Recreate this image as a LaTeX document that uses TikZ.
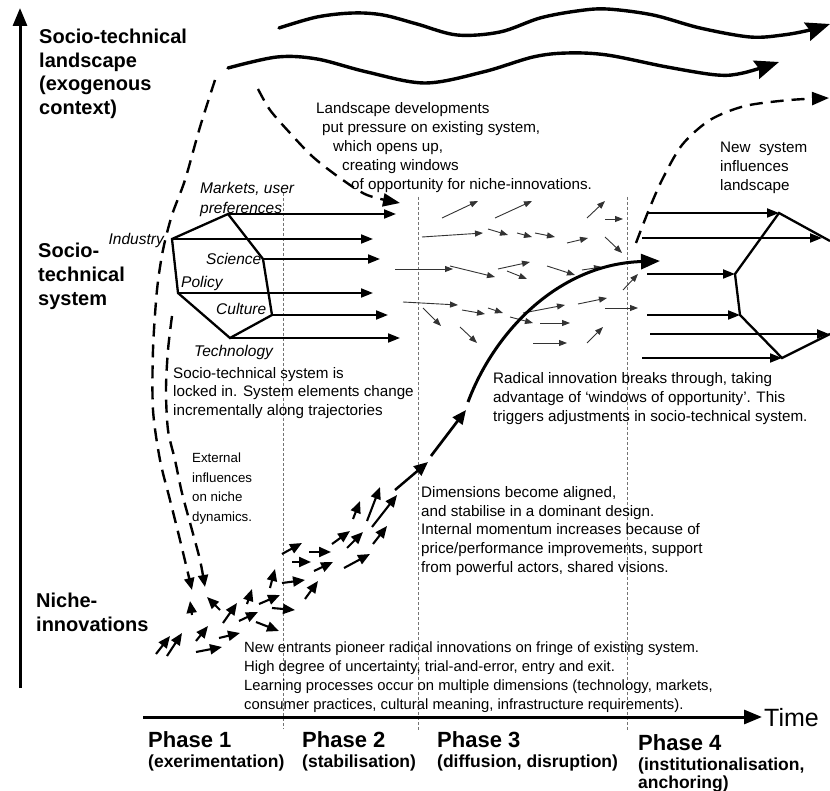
\documentclass[tikz,border=0pt]{standalone}
\usepackage{fontspec}
\setmainfont{Liberation Sans}
\usetikzlibrary{arrows.meta}
\begin{document}
\begin{tikzpicture}[x=1pt,y=-1pt,
  axisline/.style={line width=3pt,-{Triangle[length=18pt,width=14pt]}},
  wave/.style={line width=3.4pt,line cap=round,-{Stealth[length=24pt,width=19pt,inset=3pt]}},
  sysarrow/.style={line width=2pt,-{Triangle[length=12pt,width=9pt]}},
  hexline/.style={line width=2.3pt,line join=miter},
  dcurve/.style={line width=2.4pt,dash pattern=on 13pt off 8pt,-{Triangle[length=12pt,width=10pt]}},
  bigdcurve/.style={dcurve,-{Triangle[length=17pt,width=13pt]}},
  thinarrow/.style={line width=0.9pt,draw=black!80,-{Triangle[length=8pt,width=6pt]}},
  nichearrow/.style={line width=2.1pt,-{Triangle[length=12pt,width=10pt]}},
  phaseline/.style={line width=0.6pt,draw=black!55,dash pattern=on 3pt off 2pt},
  bodytext/.style={font=\fontsize{15.2}{19}\selectfont,align=left,inner sep=0pt,anchor=north west},
  levellabel/.style={font=\fontsize{20}{23.5}\selectfont\bfseries,align=left,inner sep=0pt,anchor=north west},
  element/.style={font=\fontsize{15.5}{20}\selectfont\itshape,inner sep=0pt,anchor=base west},
  phaselabel/.style={font=\fontsize{22}{24}\selectfont\bfseries,inner sep=0pt,anchor=base west},
  phasesub/.style={font=\fontsize{17.5}{18}\selectfont\bfseries,inner sep=0pt,anchor=base west},
]
\useasboundingbox (0,0) rectangle (830,791);
\fill[white] (0,0) rectangle (830,791);

% phase separators
\coordinate (sepAtop) at (283,193); \coordinate (sepAbot) at (283,729);
\coordinate (sepBtop) at (418,197); \coordinate (sepBbot) at (418,730);
\coordinate (sepCtop) at (627,197); \coordinate (sepCbot) at (627,730);
\draw[phaseline] (sepAtop) -- (sepAbot);
\draw[phaseline] (sepBtop) -- (sepBbot);
\draw[phaseline] (sepCtop) -- (sepCbot);

% axes
\coordinate (yfoot) at (20,688); \coordinate (ytop) at (20,8);
\draw[axisline] (yfoot) -- (ytop);
\coordinate (tstart) at (143,717); \coordinate (tend) at (762,717);
\draw[axisline] (tstart) -- (tend);
\node[anchor=base west,inner sep=0pt,font=\fontsize{25}{27}\selectfont] (timelabel) at (764,726) {Time};

% level labels
\node[levellabel] (landscapelabel) at (39,29) {Socio-technical\\landscape\\(exogenous\\context)};
\node[levellabel,font=\fontsize{20}{24}\selectfont\bfseries] (systemlabel) at (38,243) {Socio-\\technical\\system};
\node[levellabel] (nichelabel) at (36,593) {Niche-\\innovations};

% landscape waves
\draw[wave] plot[smooth,tension=0.55] coordinates {(279,28) (317,17) (353,13) (383,15) (417,24) (457,35) (500,32) (540,18) (577,11) (607,9) (653,15) (700,28) (750,37) (783,35) (810,30) (830,24)};
\draw[wave] plot[smooth,tension=0.55] coordinates {(228,68) (277,57) (317,59) (367,72) (425,83) (483,72) (533,57) (567,53) (607,55) (667,67) (717,75) (743,73) (779,62)};

% dashed influence curves
\draw[dcurve] plot[smooth] coordinates {(215,80) (200,127) (185,180) (172,215) (163,250) (157,290) (153,350) (153,410) (160,460) (170,500) (180,540) (192,590)};
\draw[dcurve] plot[smooth] coordinates {(172,316) (168,350) (166,390) (168,430) (175,460) (182,493) (192,530) (200,560) (205,587)};
\draw[bigdcurve] plot[smooth] coordinates {(258,89) (270,110) (290,133) (313,157) (340,178) (367,195) (400,203)};
\draw[bigdcurve] plot[smooth] coordinates {(636,243) (648,212) (662,180) (682,145) (710,120) (745,106) (790,100) (829,98)};

% texts
\node[bodytext] (landscapetext) at (316,102) {Landscape developments\\\hspace*{6pt}put pressure on existing system,\\\hspace*{17pt}which opens up,\\\hspace*{26pt}creating windows\\\hspace*{35pt}of opportunity for niche-innovations.};
\node[bodytext] (newsystext) at (720,142) {New~~system\\influences\\landscape};
\node[bodytext,font=\fontsize{15.2}{18.5}\selectfont] (lockedtext) at (173,367) {Socio-technical system is\\locked in. System elements change\\incrementally along trajectories};
\node[bodytext,font=\fontsize{13.3}{19.5}\selectfont] (externaltext) at (192,453) {External\\influences\\on niche\\dynamics.};
\node[bodytext] (radicaltext) at (493,372) {Radical innovation breaks through, taking\\advantage of `windows of opportunity'. This\\triggers adjustments in socio-technical system.};
\node[bodytext,font=\fontsize{15.2}{18.8}\selectfont] (dimtext) at (421,486) {Dimensions become aligned,\\and stabilise in a dominant design.\\Internal momentum increases because of\\price/performance improvements, support\\from powerful actors, shared visions.};
\node[bodytext,font=\fontsize{14.8}{18.7}\selectfont] (entrantstext) at (244,642) {New entrants pioneer radical innovations on fringe of existing system.\\High degree of uncertainty, trial-and-error, entry and exit.\\Learning processes occur on multiple dimensions (technology, markets,\\consumer practices, cultural meaning, infrastructure requirements).};

% phase labels
\node[phaselabel] (phaseone) at (148,747) {Phase 1};
\node[phasesub] (phaseonesub) at (148,767) {(exerimentation)};
\node[phaselabel] (phasetwo) at (302,747) {Phase 2};
\node[phasesub] (phasetwosub) at (302,767) {(stabilisation)};
\node[phaselabel] (phasethree) at (437,747) {Phase 3};
\node[phasesub] (phasethreesub) at (437,767) {(diffusion, disruption)};
\node[phaselabel] (phasefour) at (638,750) {Phase 4};
\node[phasesub] (phasefoursub) at (638,770) {(institutionalisation,};
\node[phasesub] (phasefoursubb) at (638,788) {anchoring)};

% existing socio-technical system (left hexagon)
\coordinate (industry) at (172,239);
\coordinate (markets) at (228,214);
\coordinate (science) at (263,259);
\coordinate (culture) at (272,315);
\coordinate (technology) at (230,338);
\coordinate (policy) at (178,293);
\draw[hexline] (industry) -- (markets) -- (science) -- (culture) -- (technology) -- (policy) -- cycle;
\coordinate (marketsend) at (396,214);
\coordinate (industryend) at (373,239);
\coordinate (scienceend) at (380,259);
\coordinate (policyend) at (373,293);
\coordinate (cultureend) at (388,315);
\coordinate (technologyend) at (400,338);
\draw[sysarrow] (markets) -- (marketsend);
\draw[sysarrow] (industry) -- (industryend);
\draw[sysarrow] (science) -- (scienceend);
\draw[sysarrow] (policy) -- (policyend);
\draw[sysarrow] (culture) -- (cultureend);
\draw[sysarrow] (technology) -- (technologyend);

\node[element,align=left,anchor=north west] (marketslabel) at (200,182) {Markets, user\\preferences};
\node[element,anchor=base east] (industrylabel) at (164,245) {Industry};
\node[element] (sciencelabel) at (206,265) {Science};
\node[element] (policylabel) at (181,288) {Policy};
\node[element] (culturelabel) at (216,315) {Culture};
\node[element] (technologylabel) at (194,357) {Technology};

% new socio-technical system (right hexagon)
\coordinate (rtop) at (779,213);
\coordinate (rlt) at (735,274);
\coordinate (rlb) at (740,315);
\coordinate (rbot) at (782,358);
\coordinate (rtr) at (830,241);
\coordinate (rbr) at (830,334);
\draw[hexline] (rtr) -- (rtop) -- (rlt) -- (rlb) -- (rbot) -- (rbr);
\coordinate (ra) at (647,213); \coordinate (rb) at (642,238); \coordinate (rbe) at (822,238);
\coordinate (rc) at (647,274); \coordinate (rd) at (647,315);
\coordinate (re) at (650,334); \coordinate (ree) at (829,334);
\coordinate (rf) at (642,358);
\draw[sysarrow] (ra) -- (rtop);
\draw[sysarrow] (rb) -- (rbe);
\draw[sysarrow] (rc) -- (rlt);
\draw[sysarrow] (rd) -- (rlb);
\draw[sysarrow] (re) -- (ree);
\draw[sysarrow] (rf) -- (rbot);

% turbulence in phase 3
\foreach \ax/\ay/\bx/\by in {442/218/478/201, 495/218/532/201, 587/218/605/201, 605/219/623/219,
  422/237/483/233, 488/229/508/235, 517/233/532/237, 535/233/555/237, 567/243/588/238, 605/237/622/253,
  395/269/453/269, 450/266/495/277, 498/269/530/262, 507/271/527/279, 547/266/575/275, 582/270/602/267,
  623/290/638/274, 403/302/458/305, 423/308/441/326, 462/310/485/314, 488/308/503/313, 510/317/533/323,
  523/313/565/305, 540/323/570/323, 578/304/607/298, 605/308/638/308, 460/327/477/343, 533/343/567/343,
  587/343/603/327}
  \draw[thinarrow] (\ax,\ay) -- (\bx,\by);

% niche-innovations
\foreach \ax/\ay/\bx/\by in {156/654/170/636, 167/656/182/633, 196/641/208/626, 196/652/222/647,
  219/638/240/633, 192/615/190/601, 220/610/207/597, 223/623/237/603, 239/621/258/612, 247/604/252/589,
  259/604/280/595, 256/622/279/631, 270/588/275/569, 272/608/295/610, 282/583/305/580, 282/554/302/543,
  292/562/311/562, 305/599/318/581, 309/552/331/552, 314/571/333/562, 332/544/350/531, 344/568/370/554,
  347/548/363/532, 353/519/360/501, 367/521/380/487, 372/527/397/495, 373/544/387/526}
  \draw[nichearrow] (\ax,\ay) -- (\bx,\by);

% breakthrough trajectory
\coordinate (dimA) at (395,490); \coordinate (dimB) at (428,462);
\coordinate (dimC) at (431,456); \coordinate (dimD) at (466,410);
\draw[line width=2.5pt,-{Triangle[length=14pt,width=12pt]}] (dimA) -- (dimB);
\draw[line width=2.7pt,-{Triangle[length=14pt,width=12pt]}] (dimC) -- (dimD);
\coordinate (radstart) at (468,402); \coordinate (radend) at (660,261);
\draw[line width=3pt,-{Triangle[length=19pt,width=15pt]}] (radstart) .. controls (495,330) and (560,264) .. (radend);
\end{tikzpicture}
\end{document}
